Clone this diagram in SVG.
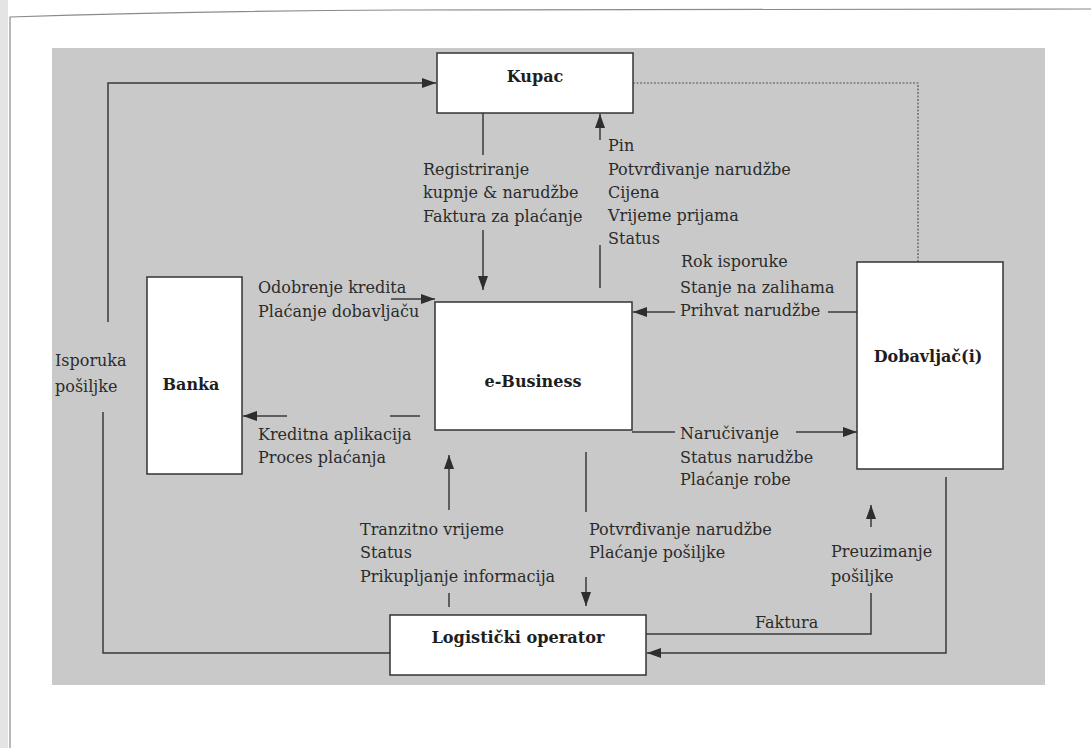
<svg xmlns="http://www.w3.org/2000/svg" width="1091" height="748" viewBox="0 0 1091 748">
<style>
.lbl{font-family:"DejaVu Serif","Liberation Serif",serif;font-size:16px;fill:#2b2b2b}
.node{font-family:"DejaVu Serif","Liberation Serif",serif;font-size:16px;font-weight:bold;fill:#1e1e1e;text-anchor:middle}
.box{fill:#ffffff;stroke:#333333;stroke-width:1.5}
.ln{fill:none;stroke:#3a3a3a;stroke-width:1.5}
.dot{fill:none;stroke:#555555;stroke-width:1.2;stroke-dasharray:2 1.5}
</style>
<defs>
<marker id="ah" viewBox="0 0 14 10" refX="14" refY="5" markerWidth="14" markerHeight="10" orient="auto" markerUnits="userSpaceOnUse">
<path d="M0,0 L14,5 L0,10 z" fill="#2e2e2e"/>
</marker>
</defs>
<rect x="0" y="0" width="1091" height="748" fill="#ffffff"/>
<rect x="0" y="0" width="8" height="748" fill="#e4e4e4"/>
<path d="M10,748 L10,17 Q200,11 400,10 L1091,9" fill="none" stroke="#8a8a8a" stroke-width="1.2"/>
<rect x="52" y="48" width="993" height="637" fill="#c9c9c9"/>

<g id="connectors">
<polyline class="ln" points="390,653 103,653 103,412"/>
<polyline class="ln" points="108,322 108,83 436,83" marker-end="url(#ah)"/>
<polyline class="dot" points="633,83 918,83 918,262"/>
<line class="ln" x1="483" y1="113" x2="483" y2="155"/>
<line class="ln" x1="483" y1="230" x2="483" y2="290" marker-end="url(#ah)"/>
<line class="ln" x1="600" y1="288" x2="600" y2="245"/>
<line class="ln" x1="600" y1="140" x2="600" y2="114" marker-end="url(#ah)"/>
<line class="ln" x1="857" y1="312" x2="828" y2="312"/>
<line class="ln" x1="675" y1="312" x2="633" y2="312" marker-end="url(#ah)"/>
<line class="ln" x1="632" y1="432" x2="675" y2="432"/>
<line class="ln" x1="796" y1="432" x2="857" y2="432" marker-end="url(#ah)"/>
<line class="ln" x1="391" y1="299" x2="435" y2="299" marker-end="url(#ah)"/>
<line class="ln" x1="420" y1="416" x2="390" y2="416"/>
<line class="ln" x1="287" y1="416" x2="243" y2="416" marker-end="url(#ah)"/>
<line class="ln" x1="449" y1="510" x2="449" y2="455" marker-end="url(#ah)"/>
<line class="ln" x1="449" y1="593" x2="449" y2="607"/>
<line class="ln" x1="586" y1="452" x2="586" y2="512"/>
<line class="ln" x1="586" y1="577" x2="586" y2="606" marker-end="url(#ah)"/>
<polyline class="ln" points="646,634 871,634 871,593"/>
<line class="ln" x1="871" y1="527" x2="871" y2="505" marker-end="url(#ah)"/>
<polyline class="ln" points="946,477 946,653 647,653" marker-end="url(#ah)"/>
</g>

<g id="kupac">
<rect class="box" x="437" y="53" width="196" height="60"/>
<text class="node" x="535" y="82">Kupac</text>
</g>
<g id="banka">
<rect class="box" x="147" y="277" width="95" height="197"/>
<text class="node" x="191" y="390">Banka</text>
</g>
<g id="ebusiness">
<rect class="box" x="435" y="302" width="197" height="128"/>
<text class="node" x="533" y="387">e-Business</text>
</g>
<g id="dobavljac">
<rect class="box" x="857" y="262" width="146" height="207"/>
<text class="node" x="928" y="362">Dobavljač(i)</text>
</g>
<g id="logisticki">
<rect class="box" x="390" y="615" width="256" height="60"/>
<text class="node" x="518" y="643" textLength="173" lengthAdjust="spacingAndGlyphs">Logistički operator</text>
</g>

<g id="labels">
<text class="lbl" x="423" y="175">Registriranje</text>
<text class="lbl" x="423" y="198">kupnje &amp; narudžbe</text>
<text class="lbl" x="423" y="222">Faktura za plaćanje</text>
<text class="lbl" x="608" y="151">Pin</text>
<text class="lbl" x="608" y="175">Potvrđivanje narudžbe</text>
<text class="lbl" x="608" y="198">Cijena</text>
<text class="lbl" x="608" y="221">Vrijeme prijama</text>
<text class="lbl" x="608" y="244">Status</text>
<text class="lbl" x="681" y="267">Rok isporuke</text>
<text class="lbl" x="680" y="293">Stanje na zalihama</text>
<text class="lbl" x="680" y="316">Prihvat narudžbe</text>
<text class="lbl" x="680" y="439">Naručivanje</text>
<text class="lbl" x="680" y="463">Status narudžbe</text>
<text class="lbl" x="680" y="485">Plaćanje robe</text>
<text class="lbl" x="258" y="293">Odobrenje kredita</text>
<text class="lbl" x="258" y="317">Plaćanje dobavljaču</text>
<text class="lbl" x="258" y="440">Kreditna aplikacija</text>
<text class="lbl" x="258" y="463">Proces plaćanja</text>
<text class="lbl" x="55" y="366">Isporuka</text>
<text class="lbl" x="55" y="392">pošiljke</text>
<text class="lbl" x="360" y="535">Tranzitno vrijeme</text>
<text class="lbl" x="360" y="558">Status</text>
<text class="lbl" x="360" y="582">Prikupljanje informacija</text>
<text class="lbl" x="589" y="535">Potvrđivanje narudžbe</text>
<text class="lbl" x="589" y="558">Plaćanje pošiljke</text>
<text class="lbl" x="831" y="557">Preuzimanje</text>
<text class="lbl" x="831" y="582">pošiljke</text>
<text class="lbl" x="755" y="628">Faktura</text>
</g>
</svg>
